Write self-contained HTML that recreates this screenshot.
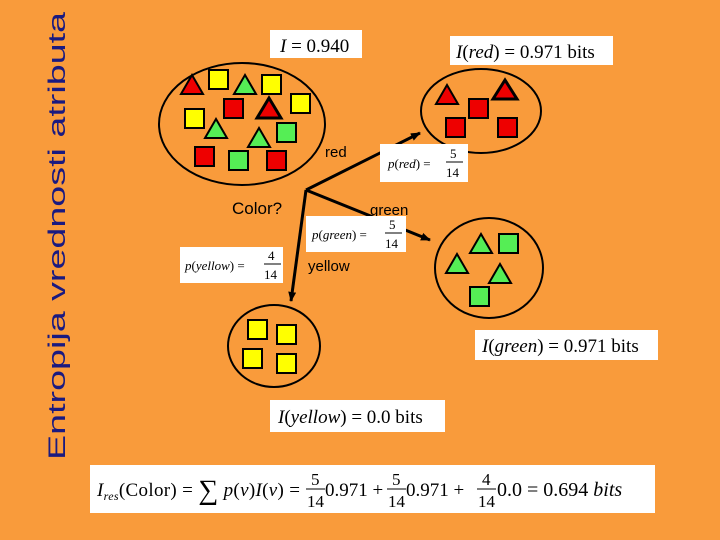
<!DOCTYPE html>
<html><head><meta charset="utf-8"><style>
html,body{margin:0;padding:0;background:#F99B3B;}
svg{display:block}
.m{font-family:"Liberation Serif",serif;fill:#000}
.i{font-style:italic}
.l{font-family:"Liberation Sans",sans-serif;font-size:15px;fill:#000}
</style></head><body>
<svg width="720" height="540" viewBox="0 0 720 540" xmlns="http://www.w3.org/2000/svg">
<rect width="720" height="540" fill="#F99B3B"/>
<defs>
<marker id="ah" markerWidth="10" markerHeight="8" refX="9" refY="4" orient="auto" markerUnits="userSpaceOnUse">
<path d="M0,0 L10,4 L0,8 z" fill="#000"/></marker>
</defs>
<text transform="translate(65,460) rotate(-90)" textLength="448" lengthAdjust="spacingAndGlyphs" font-family="Liberation Sans, sans-serif" font-size="24" fill="#1a1a80">Entropija vrednosti atributa</text>

<g fill="none" stroke="#000" stroke-width="2">
<ellipse cx="242" cy="124" rx="83" ry="61"/>
<ellipse cx="481" cy="111" rx="60" ry="42"/>
<ellipse cx="489" cy="268" rx="54" ry="50"/>
<ellipse cx="274" cy="346" rx="46" ry="41"/>
</g>

<g stroke="#000" stroke-width="3" fill="none">
<line x1="306" y1="190" x2="420" y2="133" marker-end="url(#ah)"/>
<line x1="306" y1="190" x2="430" y2="240" marker-end="url(#ah)"/>
<line x1="306" y1="190" x2="291" y2="301" marker-end="url(#ah)"/>
</g>

<g stroke="#000" stroke-width="2">
<polygon points="192,75 181,94 203,94" fill="#E00"/>
<rect x="209" y="70" width="19" height="19" fill="#FF0"/>
<polygon points="245,75 234,94 256,94" fill="#5E5"/>
<rect x="262" y="75" width="19" height="19" fill="#FF0"/>
<rect x="224" y="99" width="19" height="19" fill="#E00"/>
<polygon points="269,98 257,118 281,118" fill="#E00" stroke-width="3"/>
<rect x="291" y="94" width="19" height="19" fill="#FF0"/>
<rect x="185" y="109" width="19" height="19" fill="#FF0"/>
<polygon points="216,119 205,138 227,138" fill="#5E5"/>
<rect x="277" y="123" width="19" height="19" fill="#5E5"/>
<polygon points="259,128 248,147 270,147" fill="#5E5"/>
<rect x="195" y="147" width="19" height="19" fill="#E00"/>
<rect x="229" y="151" width="19" height="19" fill="#5E5"/>
<rect x="267" y="151" width="19" height="19" fill="#E00"/>
<polygon points="447,85 436,104 458,104" fill="#E00"/>
<rect x="469" y="99" width="19" height="19" fill="#E00"/>
<polygon points="505,80 493,99 517,99" fill="#E00" stroke-width="3"/>
<rect x="446" y="118" width="19" height="19" fill="#E00"/>
<rect x="498" y="118" width="19" height="19" fill="#E00"/>
<polygon points="481,234 470,253 492,253" fill="#5E5"/>
<rect x="499" y="234" width="19" height="19" fill="#5E5"/>
<polygon points="457,254 446,273 468,273" fill="#5E5"/>
<polygon points="500,264 489,283 511,283" fill="#5E5"/>
<rect x="470" y="287" width="19" height="19" fill="#5E5"/>
<rect x="248" y="320" width="19" height="19" fill="#FF0"/>
<rect x="277" y="325" width="19" height="19" fill="#FF0"/>
<rect x="243" y="349" width="19" height="19" fill="#FF0"/>
<rect x="277" y="354" width="19" height="19" fill="#FF0"/>
</g>

<text x="325" y="157" class="l">red</text>
<text x="232" y="214" font-family="Liberation Sans, sans-serif" font-size="17" fill="#000">Color?</text>
<text x="370" y="215" class="l">green</text>
<text x="308" y="271" class="l">yellow</text>

<g fill="#fff">
<rect x="270" y="30" width="92" height="28"/>
<rect x="450" y="36" width="163" height="29"/>
<rect x="380" y="144" width="88" height="38"/>
<rect x="306" y="216" width="100" height="36"/>
<rect x="180" y="247" width="103" height="36"/>
<rect x="475" y="330" width="183" height="30"/>
<rect x="270" y="400" width="175" height="32"/>
<rect x="90" y="465" width="565" height="48"/>
</g>
<text x="280" y="52" class="m" font-size="19"><tspan class="i">I</tspan> = 0.940</text>
<text x="456" y="58" class="m" font-size="19"><tspan class="i">I</tspan>(<tspan class="i">red</tspan>) = 0.971 bits</text>
<text x="388" y="168" class="m" font-size="13"><tspan class="i">p</tspan>(<tspan class="i">red</tspan>) =</text>
<text x="450" y="158" class="m" font-size="13">5</text>
<line x1="446" y1="162" x2="463" y2="162" stroke="#000"/>
<text x="446" y="177" class="m" font-size="13">14</text>
<text x="312" y="239" class="m" font-size="13"><tspan class="i">p</tspan>(<tspan class="i">green</tspan>) =</text>
<text x="389" y="229" class="m" font-size="13">5</text>
<line x1="385" y1="233" x2="402" y2="233" stroke="#000"/>
<text x="385" y="248" class="m" font-size="13">14</text>
<text x="185" y="270" class="m" font-size="13"><tspan class="i">p</tspan>(<tspan class="i">yellow</tspan>) =</text>
<text x="268" y="260" class="m" font-size="13">4</text>
<line x1="264" y1="264" x2="281" y2="264" stroke="#000"/>
<text x="264" y="279" class="m" font-size="13">14</text>
<text x="482" y="352" class="m" font-size="19"><tspan class="i">I</tspan>(<tspan class="i">green</tspan>) = 0.971 bits</text>
<text x="278" y="423" class="m" font-size="19"><tspan class="i">I</tspan>(<tspan class="i">yellow</tspan>) = 0.0 bits</text>
<text x="97" y="496" class="m" font-size="19" textLength="203" lengthAdjust="spacing"><tspan class="i">I</tspan><tspan class="i" font-size="12" dy="4">res</tspan><tspan dy="-4">(Color) = </tspan><tspan font-size="28" dy="3">∑</tspan><tspan dy="-3"> </tspan><tspan class="i">p</tspan>(<tspan class="i">v</tspan>)<tspan class="i">I</tspan>(<tspan class="i">v</tspan>) =</text>
<text x="311" y="485" class="m" font-size="17">5</text><line x1="306" y1="489" x2="325" y2="489" stroke="#000"/><text x="307" y="507" class="m" font-size="17">14</text>
<text x="325" y="496" class="m" font-size="19">0.971 +</text>
<text x="392" y="485" class="m" font-size="17">5</text><line x1="387" y1="489" x2="406" y2="489" stroke="#000"/><text x="388" y="507" class="m" font-size="17">14</text>
<text x="406" y="496" class="m" font-size="19">0.971 +</text>
<text x="482" y="485" class="m" font-size="17">4</text><line x1="477" y1="489" x2="496" y2="489" stroke="#000"/><text x="478" y="507" class="m" font-size="17">14</text>
<text x="497" y="496" class="m" font-size="20">0.0 = 0.694 <tspan class="i">bits</tspan></text>
</svg>
</body></html>
